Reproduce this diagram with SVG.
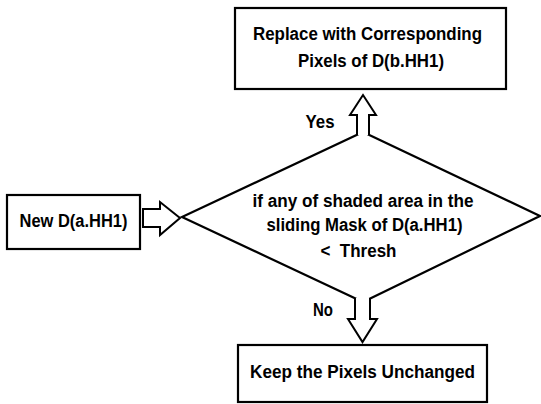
<svg xmlns="http://www.w3.org/2000/svg" width="541" height="404" viewBox="0 0 541 404">
<style>
.box{fill:#fff;stroke:#000;stroke-width:2.2}
.arr{fill:#fff;stroke:#000;stroke-width:2;stroke-linejoin:miter}
.t{font-family:"Liberation Sans",Arial,sans-serif;font-weight:bold;font-size:18px;fill:#000;text-anchor:middle}
</style>
<rect width="541" height="404" fill="#fff"/>
<g id="decision">
<polygon class="box" points="363,132 540,216 363,302 182,217"/>
<text class="t" x="363" y="207" textLength="221" lengthAdjust="spacingAndGlyphs">if any of shaded area in the</text>
<text class="t" x="364.5" y="231" textLength="196" lengthAdjust="spacingAndGlyphs">sliding Mask of D(a.HH1)</text>
<text class="t" x="358.5" y="257" textLength="76" lengthAdjust="spacingAndGlyphs">&lt;&#160; Thresh</text>
</g>
<g id="replace">
<rect class="box" x="235" y="8" width="271" height="81"/>
<text class="t" x="367.5" y="40" textLength="229" lengthAdjust="spacingAndGlyphs">Replace with Corresponding</text>
<text class="t" x="371" y="67" textLength="146" lengthAdjust="spacingAndGlyphs">Pixels of D(b.HH1)</text>
</g>
<g id="input">
<rect class="box" x="7" y="195" width="133" height="54"/>
<text class="t" x="73.5" y="227" textLength="108" lengthAdjust="spacingAndGlyphs">New D(a.HH1)</text>
</g>
<g id="keep">
<rect class="box" x="238" y="345" width="249" height="57"/>
<text class="t" x="362.5" y="378" textLength="225" lengthAdjust="spacingAndGlyphs">Keep the Pixels Unchanged</text>
</g>
<g id="connectors">
<path class="arr" d="M357,135 V115 H350 L363,95 L376,115 H369 V135"/>
<path class="arr" d="M355,298 V319 H348 L362.5,342 L377,319 H370 V298"/>
<polygon class="arr" points="143,209 160,209 160,202 180,218 160,235 160,227 143,227"/>
<text class="t" x="320" y="128" textLength="29" lengthAdjust="spacingAndGlyphs">Yes</text>
<text class="t" x="323" y="316" textLength="20" lengthAdjust="spacingAndGlyphs">No</text>
</g>
</svg>
